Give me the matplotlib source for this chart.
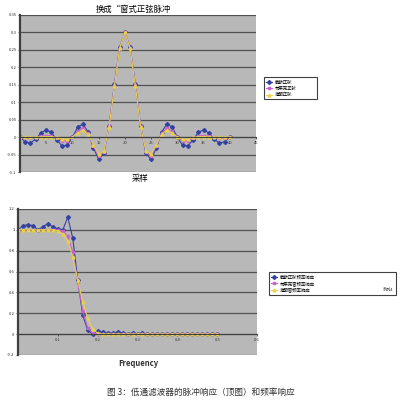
import numpy as np
import matplotlib
matplotlib.use("Agg")
import matplotlib.pyplot as plt

plt.rcParams['font.family'] = ['Noto Sans CJK SC', 'DejaVu Sans']
plt.rcParams['axes.unicode_minus'] = False

BLUE = "#3342a0"
PINK = "#c862c8"
YELLOW = "#e8d24a"
PLOT_BG = "#b8b8b8"
GRID = "#505050"

# top chart: impulse response, samples 0..40
samples = list(range(41))
truncated_sinc = [0.0, -0.0136, -0.0168, -0.0058, 0.0117, 0.0212, 0.0134, -0.0076,
                  -0.0252, -0.0234, 0.0, 0.0286, 0.0378, 0.0140, -0.0312, -0.0637,
                  -0.0468, 0.0328, 0.1514, 0.2575, 0.300, 0.2575, 0.1514, 0.0328,
                  -0.0468, -0.0637, -0.0312, 0.0140, 0.0378, 0.0286, 0.0, -0.0234,
                  -0.0252, -0.0076, 0.0134, 0.0212, 0.0117, -0.0058, -0.0168, -0.0136, 0.0]
hamming_sinc = [0.0, -0.0012, -0.0017, -0.0008, 0.0020, 0.0046, 0.0036, -0.0025,
                -0.0100, -0.0110, 0.0, 0.0175, 0.0258, 0.0105, -0.0253, -0.0551,
                -0.0427, 0.0312, 0.1480, 0.2560, 0.300, 0.2560, 0.1480, 0.0312,
                -0.0427, -0.0551, -0.0253, 0.0105, 0.0258, 0.0175, 0.0, -0.0110,
                -0.0100, -0.0025, 0.0036, 0.0046, 0.0020, -0.0008, -0.0017, -0.0012, 0.0]
blackman_sinc = [0.0, 0.0, -0.0002, -0.0001, 0.0005, 0.0014, 0.0014, -0.0011,
                 -0.0051, -0.0062, 0.0, 0.0121, 0.0193, 0.0084, -0.0215, -0.0493,
                 -0.0397, 0.0299, 0.1454, 0.2549, 0.300, 0.2549, 0.1454, 0.0299,
                 -0.0397, -0.0493, -0.0215, 0.0084, 0.0193, 0.0121, 0.0, -0.0062,
                 -0.0051, -0.0011, 0.0014, 0.0014, 0.0005, -0.0001, -0.0002, 0.0, 0.0]
top_labels = ["截断正弦", "布莱克正弦", "海明正弦"]
top_yticks = [-0.1, -0.05, 0, 0.05, 0.1, 0.15, 0.2, 0.25, 0.3, 0.35]
top_xticks = [0, 5, 10, 15, 20, 25, 30, 35, 40, 45]

# bottom chart: frequency response, 0..0.5
freq = np.linspace(0, 0.5, 41)
truncated_resp = [1.00, 1.04, 1.05, 1.04, 1.00, 1.03, 1.06, 1.03, 1.01, 1.00,
                  1.12, 0.92, 0.52, 0.18, 0.04, 0.00, 0.03, 0.02, 0.01, 0.01,
                  0.02, 0.01, 0.005, 0.01, 0.005, 0.008, 0.005, 0.004, 0.006, 0.004,
                  0.003, 0.005, 0.003, 0.004, 0.003, 0.002, 0.004, 0.002, 0.003, 0.002, 0.002]
hamming_resp = [1.00, 1.00, 1.00, 1.00, 1.00, 1.00, 1.00, 1.00, 1.00, 0.99,
                0.94, 0.79, 0.50, 0.22, 0.06, 0.01, 0.00, 0.002, 0.003, 0.002,
                0.001, 0.002, 0.001, 0.002, 0.001, 0.001, 0.002, 0.001, 0.001, 0.001,
                0.001, 0.001, 0.001, 0.001, 0.001, 0.001, 0.001, 0.001, 0.001, 0.001, 0.001]
blackman_resp = [1.00, 1.00, 1.00, 1.00, 1.00, 1.00, 1.00, 1.00, 0.99, 0.96,
                 0.89, 0.74, 0.52, 0.31, 0.15, 0.05, 0.01, 0.0, 0.0, 0.0,
                 0.0, 0.0, 0.0, 0.0, 0.0, 0.0, 0.0, 0.0, 0.0, 0.0,
                 0.0, 0.0, 0.0, 0.0, 0.0, 0.0, 0.0, 0.0, 0.0, 0.0, 0.0]
bottom_labels = ["截断正弦频率响应", "布莱克窗频率响应", "海明窗频率响应"]
bottom_yticks = [-0.2, 0, 0.2, 0.4, 0.6, 0.8, 1.0, 1.2]
bottom_xticks = [0, 0.1, 0.2, 0.3, 0.4, 0.5, 0.6]

W, H = 403, 400


def px_axes(fig, left, top, right, bottom):
    return fig.add_axes([left / W, 1 - bottom / H, (right - left) / W, (bottom - top) / H])


def px_box(left, top, right, bottom):
    return (left / W, 1 - bottom / H, (right - left) / W, (bottom - top) / H)


def style_axes(ax, yticks, xticks):
    ax.set_facecolor(PLOT_BG)
    for s in ['top', 'right']:
        ax.spines[s].set_visible(False)
    ax.spines['left'].set_color("#404040")
    ax.spines['left'].set_linewidth(1.6)
    ax.spines['bottom'].set_position(('data', 0))
    ax.spines['bottom'].set_color("#404040")
    ax.spines['bottom'].set_linewidth(0.8)
    ax.set_yticks(yticks)
    ax.set_yticklabels(['{:g}'.format(v) for v in yticks])
    ax.set_xticks(xticks)
    ax.set_xticklabels(['{:g}'.format(v) for v in xticks])
    ax.tick_params(labelsize=3, colors="#303030", length=1.5, width=0.5, pad=1)
    ax.set_axisbelow(True)
    for v in yticks:
        ax.axhline(v, color=GRID, lw=0.9, zorder=0)


fig = plt.figure(figsize=(W / 100, H / 100), dpi=100)

# top chart
ax1 = px_axes(fig, 20, 15, 256, 172)
style_axes(ax1, top_yticks, top_xticks)
ax1.set_xlim(0, 45)
ax1.set_ylim(-0.1, 0.35)
ax1.plot(samples, truncated_sinc, '-D', color=BLUE, lw=0.8, ms=2.0, label=top_labels[0])
ax1.plot(samples, hamming_sinc, '-s', color=PINK, lw=0.8, ms=1.8, label=top_labels[1])
ax1.plot(samples, blackman_sinc, '-^', color=YELLOW, lw=0.8, ms=2.0, label=top_labels[2])
leg1 = ax1.legend(loc='upper left', bbox_to_anchor=px_box(262, 75, 319, 97),
                  bbox_transform=fig.transFigure, mode='expand', fontsize=3.2,
                  fancybox=False, edgecolor="#404040", framealpha=1,
                  handlelength=1.2, handletextpad=0.6, labelspacing=0.3, borderpad=0.5)
leg1.get_frame().set_linewidth(0.8)
fig.text(133 / W, 1 - 9 / H, "换成“窗式正弦脉冲", ha='center', va='center', fontsize=6)
fig.text(140 / W, 1 - 178 / H, "采样", ha='center', va='center', fontsize=6)

# bottom chart
ax2 = px_axes(fig, 18, 209, 257, 355)
style_axes(ax2, bottom_yticks, bottom_xticks)
ax2.set_xlim(0, 0.6)
ax2.set_ylim(-0.2, 1.2)
ax2.plot(freq, truncated_resp, '-D', color=BLUE, lw=0.8, ms=2.0, label=bottom_labels[0])
ax2.plot(freq, hamming_resp, '-s', color=PINK, lw=0.8, ms=1.8, label=bottom_labels[1])
ax2.plot(freq, blackman_resp, '-^', color=YELLOW, lw=0.8, ms=2.0, label=bottom_labels[2])
leg2 = ax2.legend(loc='upper left', bbox_to_anchor=px_box(267, 270, 398, 296),
                  bbox_transform=fig.transFigure, mode='expand', fontsize=3.2,
                  fancybox=False, edgecolor="#404040", framealpha=1,
                  handlelength=1.2, handletextpad=0.6, labelspacing=0.35, borderpad=0.5)
leg2.get_frame().set_linewidth(0.8)
fig.text(388 / W, 1 - 290 / H, "系列4", ha='center', va='center', fontsize=3,
         color="#303030", zorder=10)
fig.text(138 / W, 1 - 363 / H, "Frequency", ha='center', va='center', fontsize=5.5,
         fontweight='bold', color="#303030")

fig.text(201 / W, 1 - 392 / H, "图 3：低通滤波器的脉冲响应（顶图）和频率响应",
         ha='center', va='center', fontsize=6.2, color="#303030")

fig.savefig("out.png", dpi=100)
